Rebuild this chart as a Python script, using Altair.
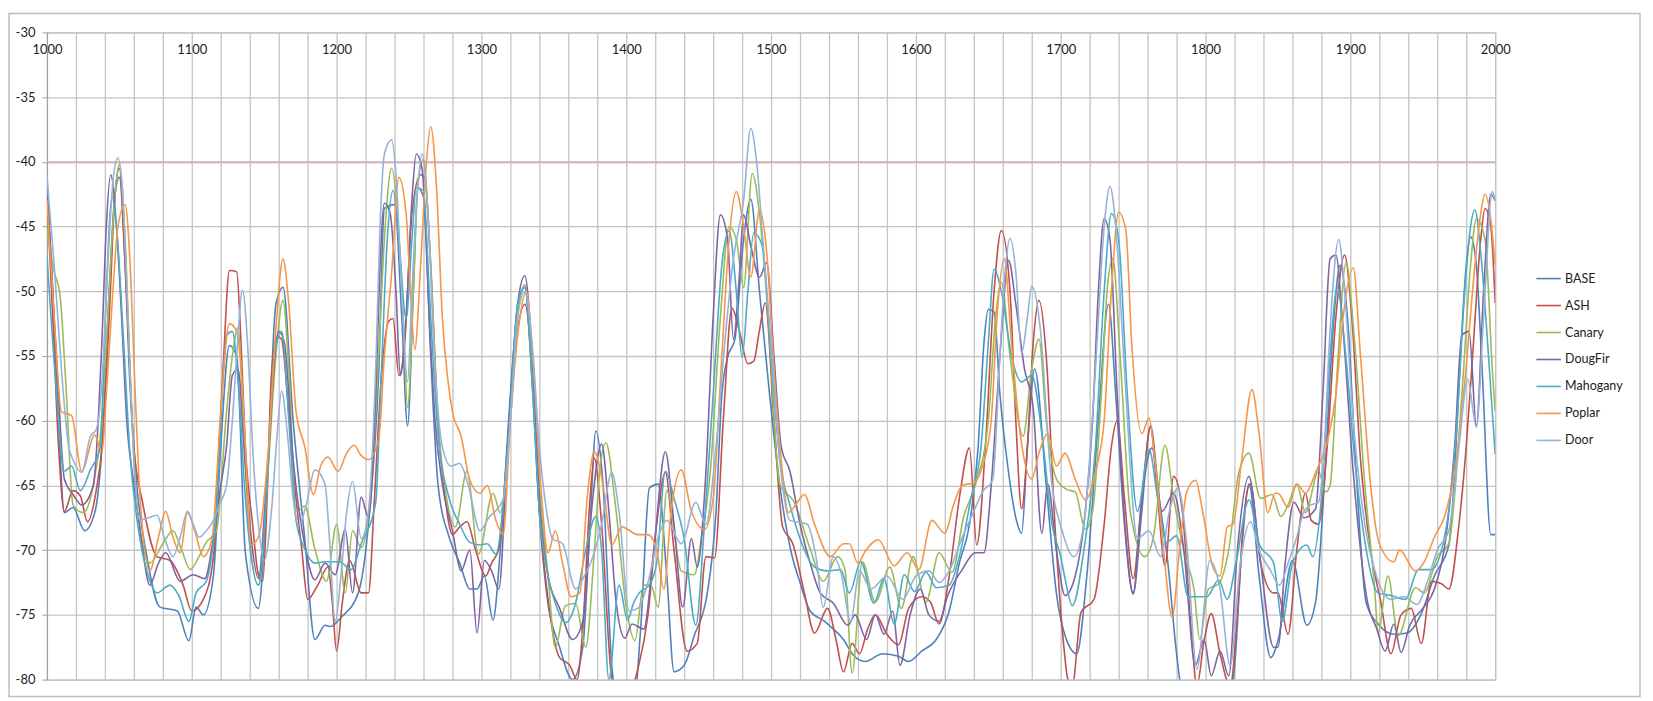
import altair as alt
import pandas as pd

SERIES = ["BASE", "ASH", "Canary", "DougFir", "Mahogany", "Poplar", "Door"]
COLORS = ["#4F81BD", "#C0504D", "#9BBB59", "#8064A2", "#4BACC6", "#F79646", "#95B3D7"]

X_TICKS = list(range(1000, 2001, 20))
Y_TICKS = list(range(-80, -29, 5))
THRESHOLD = [-40]

BASE = [(1000,-41.3),(1004,-50),(1008,-60),(1012,-67.1),(1018,-66.7),(1026,-68.5),(1033,-67.1),(1038,-62),(1043,-50),(1047,-42.5),(1050,-41.2),(1054,-48),(1057,-56.5),(1062,-64.9),(1069,-70.5),(1078,-74.4),(1090,-74.7),(1098,-77),(1103,-74.4),(1108,-75),(1115,-71.9),(1120,-62),(1126,-54.2),(1131,-55),(1137,-70.2),(1146,-74.5),(1152,-65),(1158,-51.1),(1163,-49.7),(1170,-60),(1178,-69.1),(1185,-76.9),(1192,-75.8),(1196,-75.9),(1203,-75.2),(1215,-73.3),(1222,-68),(1229,-56.5),(1233,-43.6),(1240,-43.3),(1245,-52),(1249,-60.4),(1253,-50),(1256,-42),(1260,-42.7),(1265,-55),(1270,-64.9),(1278,-69.1),(1285,-71),(1292,-73),(1297,-73),(1302,-72),(1308,-75.4),(1313,-70),(1320,-58),(1326,-50.5),(1330,-49.7),(1335,-57),(1340,-67),(1345,-73.3),(1354,-77.5),(1363,-80),(1370,-77.5),(1375,-68),(1379,-60.8),(1384,-65),(1390,-78.9),(1395,-82),(1405,-82),(1410,-76),(1416,-65.2),(1422,-64.9),(1428,-72),(1433,-79.4),(1440,-78.9),(1447,-76.6),(1456,-73.3),(1462,-67),(1466,-58),(1470,-55.1),(1475,-53.7),(1481,-46),(1486,-42.9),(1492,-50),(1499,-58),(1506,-65),(1514,-70.2),(1520,-72.5),(1527,-74.7),(1537,-75.5),(1543,-76.1),(1550,-76.9),(1556,-78),(1565,-78.6),(1577,-78),(1588,-78.2),(1595,-78.6),(1604,-77.8),(1614,-76.9),(1623,-74.7),(1630,-71),(1637,-68),(1643,-62),(1647,-54),(1650,-51.4),(1654,-51.6),(1658,-57.9),(1664,-64),(1669,-67.5),(1673,-68.7),(1677,-62),(1682,-56),(1690,-65),(1697,-73.3),(1705,-77.2),(1711,-78),(1718,-72),(1726,-60),(1733,-51),(1738,-58),(1744,-68),(1750,-73.4),(1756,-67),(1762,-60.4),(1768,-66),(1774,-71),(1780,-78),(1783,-80.5),(1790,-82),(1800,-81),(1810,-81.5),(1819,-80),(1825,-70),(1830,-64.9),(1837,-72),(1845,-78.3),(1850,-77),(1860,-70.8),(1870,-75.8),(1876,-74),(1882,-65),(1888,-53),(1893,-48),(1898,-52),(1904,-64),(1911,-74.1),(1920,-75.8),(1930,-76.5),(1939,-76.4),(1949,-74.9),(1958,-72),(1968,-69.6),(1972,-64),(1976,-55.1),(1980,-48),(1983,-45.8),(1987,-48),(1991,-56),(1997,-68.8),(2000,-68.8)]

ASH = [(1000,-42.5),(1004,-52),(1008,-62),(1012,-67),(1018,-65.4),(1023,-65.8),(1028,-67.8),(1034,-65.4),(1038,-62),(1043,-52),(1047,-42.5),(1050,-40.5),(1054,-48),(1060,-62),(1066,-66.3),(1076,-70.5),(1085,-70.8),(1094,-72.7),(1100,-74.7),(1108,-73.8),(1115,-70.5),(1118,-64),(1122,-55.1),(1126,-48.4),(1131,-48.5),(1134,-54),(1137,-62),(1142,-68),(1146,-71.9),(1149,-72.4),(1152,-66),(1155,-56.5),(1159,-53.5),(1162,-53.7),(1166,-58),(1171,-64.9),(1176,-70),(1180,-73.8),(1187,-72.7),(1194,-71.3),(1197,-74),(1200,-77.8),(1204,-74),(1209,-70.8),(1217,-73.3),(1222,-73.3),(1226,-66.3),(1231,-56.5),(1236,-52.3),(1239,-52.1),(1243,-56.5),(1247,-54),(1252,-44),(1258,-41),(1261,-41.3),(1265,-48),(1270,-60),(1275,-66),(1280,-68.8),(1285,-68.2),(1290,-67.8),(1296,-70),(1303,-72),(1307,-71),(1312,-69.9),(1318,-62),(1325,-53),(1330,-51),(1335,-56),(1340,-67),(1346,-73.8),(1354,-78.3),(1361,-78.9),(1366,-80),(1370,-76),(1375,-66),(1378,-62.9),(1383,-68),(1390,-80),(1396,-82),(1403,-81),(1408,-79.2),(1415,-75),(1421,-68),(1427,-64),(1433,-70),(1442,-77.8),(1449,-77.2),(1455,-70.5),(1461,-70.6),(1467,-60),(1473,-51.3),(1478,-53),(1484,-55.6),(1488,-55.4),(1492,-53),(1496,-50.9),(1502,-60),(1508,-68.2),(1515,-69.5),(1523,-73.3),(1530,-76.4),(1539,-74.5),(1545,-77),(1550,-79.4),(1556,-77.2),(1561,-78),(1567,-76),(1572,-75),(1580,-76.5),(1588,-77.3),(1595,-74.5),(1604,-73.6),(1610,-74),(1616,-75.7),(1623,-72),(1630,-66),(1637,-62.1),(1642,-69.6),(1648,-62),(1654,-50),(1659,-45.3),(1665,-50),(1669,-60),(1673,-66.8),(1677,-62),(1681,-54),(1685,-50.7),(1690,-55),(1696,-68),(1701,-76),(1705,-80),(1708,-80.5),(1714,-74.8),(1723,-73.8),(1730,-68),(1735,-62),(1739,-60),(1744,-66),(1750,-72.2),(1756,-66),(1762,-60.5),(1767,-66),(1772,-71.2),(1778,-64.3),(1784,-67),(1790,-76),(1794,-80.5),(1799,-77),(1804,-74.9),(1810,-78),(1817,-80.5),(1822,-75),(1826,-68),(1831,-64.9),(1838,-71),(1847,-73.3),(1850,-73.3),(1857,-76.5),(1863,-70),(1869,-65.6),(1873,-67.7),(1878,-68),(1884,-62),(1890,-52),(1896,-47.2),(1901,-52),(1907,-63),(1914,-70),(1921,-74),(1928,-78),(1935,-75),(1942,-74.5),(1949,-77.2),(1956,-72.4),(1963,-72.6),(1968,-73),(1975,-68),(1980,-62),(1985,-54),(1990,-46),(1993,-43.6),(1997,-45),(2000,-50.9)]

CANARY = [(1000,-45.3),(1005,-48.5),(1009,-50.3),(1013,-57),(1018,-66.5),(1025,-67.1),(1032,-65),(1037,-61),(1042,-52),(1046,-44),(1050,-40.2),(1054,-46),(1058,-58),(1062,-66.3),(1071,-71),(1080,-69.5),(1087,-68.5),(1093,-70),(1099,-71.5),(1105,-70.5),(1110,-69.4),(1117,-68.5),(1124,-59.3),(1128,-55),(1132,-52.8),(1135,-58),(1139,-67.7),(1146,-72.7),(1152,-65),(1158,-55),(1163,-50.7),(1167,-56),(1172,-67),(1178,-66.6),(1185,-69.9),(1193,-72.4),(1200,-68),(1206,-73.3),(1211,-68.5),(1217,-69.8),(1224,-64.9),(1229,-55),(1233,-46),(1238,-40.5),(1242,-44),(1246,-52),(1249,-59),(1253,-50),(1256,-42),(1260,-39.8),(1264,-46),(1270,-60),(1276,-66),(1282,-68.2),(1290,-63.9),(1298,-70.3),(1308,-65.6),(1313,-67.1),(1320,-60),(1326,-51),(1330,-49.5),(1335,-56),(1340,-65),(1346,-72),(1351,-77.5),(1358,-74.3),(1365,-74.1),(1372,-77.5),(1378,-70),(1382,-63.5),(1386,-61.7),(1392,-66),(1400,-74.4),(1406,-77),(1412,-72.7),(1417,-72.7),(1422,-74.4),(1428,-65.4),(1438,-71.6),(1447,-71.9),(1452,-69),(1458,-64),(1465,-52),(1471,-45),(1476,-46),(1481,-49.7),(1487,-40.9),(1492,-44),(1498,-52),(1506,-64.9),(1516,-66.3),(1527,-69.9),(1536,-72.4),(1546,-70.5),(1551,-71.5),(1556,-79.5),(1563,-70.9),(1572,-74),(1582,-71.3),(1590,-74.5),(1598,-70.5),(1607,-74),(1616,-70.2),(1625,-71.7),(1633,-67.4),(1641,-65),(1650,-60),(1655,-52),(1659,-49.3),(1665,-55),(1674,-61.2),(1680,-56),(1685,-53.7),(1690,-60),(1697,-64.5),(1704,-65.3),(1710,-65.5),(1717,-68.4),(1722,-67),(1728,-58),(1732,-50),(1736,-47.5),(1741,-55),(1748,-67),(1758,-70.5),(1764,-69),(1772,-61.9),(1778,-66),(1786,-70.5),(1792,-73),(1796,-76.9),(1802,-73),(1809,-72.6),(1816,-70),(1823,-64),(1830,-62.5),(1838,-66),(1846,-65.7),(1852,-67.4),(1857,-66.5),(1863,-64.9),(1869,-67.1),(1878,-63.9),(1883,-65.5),(1886,-65),(1891,-56),(1897,-47.8),(1903,-54),(1910,-65),(1917,-73.3),(1919,-76.4),(1926,-72),(1933,-76.6),(1945,-72.9),(1951,-73.3),(1960,-70.5),(1968,-69.5),(1977,-58),(1983,-48),(1987,-44.4),(1993,-46),(1998,-56),(2000,-59.3)]

DOUGFIR = [(1000,-41.5),(1004,-50),(1008,-58),(1012,-64.5),(1018,-65.7),(1024,-66.5),(1032,-65),(1038,-53.7),(1041,-45),(1044,-41),(1048,-45),(1052,-53),(1055,-59.8),(1060,-64.9),(1065,-69),(1071,-72.7),(1077,-71),(1082,-70.2),(1092,-72.4),(1101,-71.9),(1109,-72.2),(1115,-69),(1120,-65),(1124,-62),(1128,-56.5),(1132,-56),(1136,-62),(1141,-69),(1146,-72.2),(1152,-64),(1160,-53.1),(1164,-54),(1170,-63),(1178,-69.6),(1185,-72.3),(1192,-71),(1199,-71.9),(1206,-68.4),(1211,-73.3),(1217,-65.9),(1222,-67.5),(1227,-58),(1230,-48),(1233,-43.2),(1237,-44),(1241,-50),(1244,-56.5),(1248,-52),(1252,-43),(1255,-39.4),(1259,-40.5),(1264,-52),(1268,-60),(1273,-64.9),(1280,-68.5),(1286,-71.6),(1292,-70),(1297,-76.4),(1302,-70.8),(1307,-71.6),(1312,-73),(1318,-62),(1325,-51),(1330,-48.8),(1335,-55),(1340,-66),(1346,-72),(1354,-74.5),(1363,-76.9),(1370,-75.5),(1376,-67),(1383,-61.8),(1388,-67),(1393,-74),(1399,-76.8),(1404,-75.7),(1412,-76.1),(1419,-70),(1427,-62.4),(1433,-68),(1439,-74.4),(1445,-69.1),(1449,-71.3),(1455,-64),(1460,-52),(1465,-44.1),(1470,-46),(1474,-53.7),(1478,-49),(1481,-44.1),(1486,-46.5),(1492,-48.9),(1497,-47.8),(1502,-55),(1507,-62),(1513,-63.9),(1520,-68),(1527,-71),(1534,-73.3),(1543,-74.1),(1553,-75.8),(1558,-75),(1566,-76.9),(1572,-75),(1578,-76.5),(1584,-74.7),(1589,-78.9),(1596,-75),(1603,-73),(1609,-75),(1616,-75.5),(1622,-73.5),(1632,-71.5),(1641,-70.2),(1647,-70.2),(1652,-65),(1658,-55),(1664,-47.6),(1669,-51),(1675,-56),(1681,-59),(1687,-68.7),(1691,-64.9),(1697,-70),(1703,-73.5),(1710,-72),(1716,-68),(1722,-60),(1726,-50),(1730,-44.4),(1734,-46),(1739,-58),(1745,-69),(1750,-73.3),(1756,-66),(1763,-62.1),(1770,-67),(1778,-65.6),(1785,-70),(1793,-78.9),(1799,-76.9),(1804,-79.7),(1810,-77.8),(1816,-79.7),(1822,-70),(1830,-64.3),(1837,-70),(1847,-77.5),(1850,-77.5),(1855,-71),(1861,-66.3),(1868,-67.5),(1876,-66.8),(1881,-58),(1886,-47.5),(1890,-47.2),(1895,-53),(1902,-64),(1912,-74.1),(1918,-76),(1924,-77.8),(1930,-75.7),(1935,-77.9),(1941,-75.8),(1950,-74.5),(1958,-73),(1966,-69),(1972,-62),(1977,-53.4),(1982,-53.1),(1987,-60.4),(1992,-50),(1997,-42.5),(2000,-43)]

MAHOGANY = [(1000,-47.2),(1006,-57),(1012,-63.9),(1017,-63.5),(1023,-65.4),(1030,-63.8),(1037,-62),(1040,-53),(1045,-42.7),(1048,-45),(1053,-54),(1057,-62),(1064,-69),(1070,-72),(1076,-73.3),(1085,-72.7),(1091,-73.5),(1098,-75.5),(1103,-73.3),(1110,-72.4),(1117,-67),(1124,-53.4),(1128,-53.1),(1132,-57),(1137,-66),(1146,-72.7),(1152,-65),(1157,-55),(1162,-53.1),(1167,-60),(1172,-67.7),(1178,-69.9),(1185,-71),(1192,-70.9),(1202,-70.9),(1210,-71.5),(1217,-69.5),(1227,-66.3),(1231,-56),(1235,-46),(1239,-42.2),(1243,-46),(1248,-52.1),(1252,-46),(1255,-42),(1260,-42.2),(1264,-50),(1270,-61),(1278,-66.1),(1285,-68),(1292,-69.4),(1299,-69.6),(1304,-69.5),(1310,-70.3),(1315,-66.6),(1320,-59),(1325,-51),(1330,-49.7),(1335,-57),(1340,-67),(1346,-72),(1351,-74.1),(1358,-75.6),(1365,-74.1),(1372,-70),(1379,-67.4),(1383,-70),(1388,-80),(1395,-72.7),(1401,-75.4),(1405,-74.1),(1409,-73.3),(1416,-72.7),(1421,-71),(1427,-63.9),(1433,-66),(1440,-69.1),(1448,-75.8),(1454,-68),(1460,-58),(1466,-48),(1471,-45.3),(1476,-50),(1480,-55.1),(1484,-50),(1488,-45.5),(1494,-46.5),(1500,-55),(1506,-63),(1513,-66.5),(1520,-69.1),(1530,-71.3),(1539,-71.6),(1548,-71.5),(1554,-73.3),(1562,-70.9),(1571,-74.1),(1578,-72.2),(1585,-75.7),(1592,-71.9),(1599,-73.2),(1607,-71.7),(1614,-72.9),(1623,-72.7),(1630,-70.5),(1638,-66),(1645,-62),(1650,-54),(1654,-48.3),(1659,-50),(1666,-55),(1673,-57),(1680,-56.5),(1687,-61),(1694,-68),(1700,-70.5),(1703,-72.2),(1708,-74.3),(1716,-70),(1724,-62),(1730,-50),(1735,-44),(1740,-46),(1746,-58),(1753,-67),(1761,-62.2),(1767,-66),(1773,-69.4),(1780,-68.9),(1788,-73.6),(1801,-73.6),(1809,-72.3),(1815,-73.8),(1821,-71),(1830,-66.1),(1837,-69.5),(1847,-71),(1853,-75.5),(1860,-71),(1870,-69.6),(1874,-70.5),(1880,-66),(1886,-55),(1891,-49.7),(1896,-54),(1903,-63),(1911,-70),(1919,-73.3),(1928,-73.5),(1938,-73.8),(1947,-71.5),(1956,-71.5),(1965,-69),(1973,-61),(1979,-50),(1983,-45),(1986,-43.7),(1990,-47),(1996,-56),(2000,-62.6)]

POPLAR = [(1000,-43),(1005,-52),(1010,-59.3),(1017,-59.6),(1024,-63.9),(1033,-61.1),(1038,-62.4),(1041,-58),(1045,-50.9),(1049,-45),(1054,-43.3),(1057,-47),(1061,-58),(1064,-65.4),(1071,-71.6),(1077,-69),(1082,-67),(1087,-69),(1092,-70.2),(1097,-67.1),(1102,-68.5),(1108,-70.5),(1114,-69.1),(1120,-59.3),(1126,-52.5),(1131,-53.1),(1134,-56),(1137,-62),(1141,-69.6),(1146,-69),(1153,-62),(1158,-53),(1163,-47.5),(1167,-51),(1172,-59.3),(1178,-62),(1184,-65.7),(1189,-63.5),(1194,-62.8),(1201,-63.9),(1207,-62.5),(1212,-61.9),(1217,-62.7),(1222,-63),(1229,-61.5),(1233,-55),(1238,-48.6),(1243,-41.2),(1248,-44),(1251,-50),(1254,-54.5),(1258,-48),(1262,-40),(1265,-37.3),(1269,-42),(1273,-52),(1277,-57),(1280,-59.3),(1286,-61.2),(1292,-64.6),(1299,-65.6),(1304,-65),(1310,-67.7),(1315,-68.8),(1320,-60),(1326,-52.5),(1331,-50),(1336,-56),(1341,-65),(1346,-70.2),(1351,-68.5),(1356,-71),(1362,-73.6),(1368,-73.3),(1373,-66),(1378,-62.4),(1384,-65),(1390,-69.6),(1397,-68.2),(1408,-68.8),(1415,-68.8),(1421,-70),(1426,-73),(1431,-67),(1438,-63.8),(1445,-67),(1454,-68.4),(1460,-66),(1466,-55),(1471,-46),(1476,-42.3),(1481,-45),(1486,-48.9),(1492,-43.7),(1497,-47),(1502,-56),(1507,-63),(1512,-67.1),(1517,-66.5),(1523,-65.7),(1530,-68),(1541,-70.5),(1550,-69.5),(1554,-69.5),(1560,-71),(1565,-70.1),(1574,-69.2),(1585,-71.2),(1594,-70.2),(1602,-71.5),(1611,-67.7),(1620,-68.7),(1626,-66.5),(1632,-65),(1640,-64.8),(1646,-63.5),(1652,-60),(1656,-52),(1661,-47.5),(1666,-54),(1672,-61),(1680,-64.5),(1685,-62.5),(1691,-61),(1697,-63.5),(1703,-62.5),(1710,-64.5),(1717,-66.1),(1725,-63.5),(1730,-60),(1735,-50),(1740,-43.9),(1745,-45.3),(1749,-54),(1756,-61),(1761,-59.8),(1765,-63),(1771,-70),(1777,-75.2),(1782,-70),(1787,-65.5),(1793,-64.6),(1798,-67),(1805,-71.3),(1810,-72),(1815,-68.2),(1819,-68),(1825,-63),(1832,-57.6),(1837,-61),(1843,-67.1),(1848,-65.6),(1850,-65.6),(1857,-66.7),(1863,-64.9),(1869,-65.6),(1876,-64),(1885,-61.2),(1890,-58),(1895,-52),(1902,-48.2),(1907,-55),(1914,-65),(1920,-69.5),(1930,-70.9),(1934,-70),(1945,-71.6),(1951,-70.9),(1958,-69),(1965,-67.4),(1972,-64),(1979,-57),(1986,-48),(1990,-44),(1993,-42.5),(1997,-44.5),(2000,-48)]

DOOR = [(1000,-41.1),(1005,-48),(1010,-56),(1015,-62),(1018,-63),(1024,-64),(1030,-61.2),(1034,-60.7),(1038,-57),(1042,-48),(1046,-41),(1049,-39.7),(1052,-42),(1056,-52),(1060,-63),(1064,-67.7),(1070,-67.5),(1076,-67.3),(1081,-69),(1087,-70.5),(1092,-69),(1097,-67),(1101,-68),(1105,-69),(1110,-68.5),(1115,-67.7),(1119,-66.5),(1124,-65),(1128,-60),(1131,-55),(1135,-49.9),(1139,-55),(1142,-62),(1146,-68),(1150,-70.8),(1155,-67),(1159,-61),(1162,-57.7),(1166,-61),(1170,-66),(1174,-68.1),(1179,-66.5),(1185,-63.8),(1192,-64.9),(1195,-69),(1199,-75.5),(1203,-72),(1207,-67),(1211,-64.7),(1217,-69.1),(1222,-67),(1227,-56),(1230,-45),(1233,-39.4),(1238,-38.3),(1241,-41),(1245,-50),(1249,-57),(1252,-50),(1256,-42),(1259,-39.4),(1263,-44),(1268,-56),(1273,-62),(1279,-63.5),(1285,-63.3),(1291,-65),(1299,-68.5),(1305,-67.5),(1315,-66.1),(1320,-60),(1325,-52),(1330,-50),(1335,-54),(1340,-62),(1345,-67),(1349,-69.1),(1356,-69.5),(1365,-73),(1371,-72),(1377,-70.5),(1383,-68),(1390,-64),(1395,-67),(1402,-74.7),(1408,-74.5),(1415,-72.5),(1422,-69),(1428,-67.7),(1438,-69.5),(1448,-66.3),(1455,-68),(1462,-62),(1468,-54),(1474,-47.5),(1481,-43),(1486,-37.4),(1490,-40),(1495,-47),(1500,-54),(1506,-63),(1513,-67.7),(1525,-68),(1531,-70.5),(1536,-74.4),(1543,-70.5),(1548,-71.6),(1555,-75.5),(1561,-71.6),(1569,-73),(1580,-72),(1591,-73.8),(1600,-72),(1609,-71.6),(1616,-72.5),(1623,-71.6),(1632,-69),(1640,-67),(1646,-65.5),(1653,-64.6),(1658,-55),(1662,-48),(1665,-45.9),(1669,-48.5),(1673,-54.8),(1677,-52),(1680,-49.6),(1686,-53),(1693,-64),(1701,-68.5),(1709,-70.5),(1716,-68),(1724,-56),(1730,-45),(1734,-41.9),(1738,-45),(1744,-56),(1753,-69.1),(1761,-68.5),(1769,-70.5),(1775,-67),(1781,-65.2),(1787,-69.5),(1794,-79.2),(1803,-70.8),(1810,-73),(1817,-78.9),(1824,-71),(1831,-67.8),(1837,-70),(1845,-71.6),(1851,-72.7),(1857,-71),(1863,-69),(1868,-67),(1873,-66.5),(1878,-66.3),(1882,-62),(1886,-53),(1892,-46),(1896,-50),(1902,-60),(1910,-68),(1918,-72),(1928,-73.8),(1937,-73.6),(1946,-74.2),(1953,-72.5),(1960,-70),(1968,-68.5),(1975,-62),(1981,-56.8),(1987,-60.5),(1992,-52),(1998,-42.3),(2000,-43)]

ALL = [BASE, ASH, CANARY, DOUGFIR, MAHOGANY, POPLAR, DOOR]

rows = []
for name, pts in zip(SERIES, ALL):
    for fx, lv in pts:
        rows.append({"freq": fx, "level": lv, "series": name})
df = pd.DataFrame(rows)

FONT = "Lato"
GRID = "#c4c4c4"

x_scale = alt.Scale(domain=[1000, 2000], nice=False, zero=False)
y_scale = alt.Scale(domain=[-80, -30], nice=False, zero=False)

x_axis = alt.Axis(
    orient="top", values=X_TICKS, format="d",
    labelExpr="datum.value % 100 == 0 ? datum.label : ''",
    labelFlush=False, labelOverlap=False, tickSize=0,
    labelPadding=-17, labelBaseline="middle", domain=False,
    title=None, gridColor=GRID, gridWidth=1.3,
    labelFont=FONT, labelFontSize=13, labelColor="#222222",
)
y_axis = alt.Axis(
    values=Y_TICKS, format="d", title=None, tickSize=5,
    labelExpr="'' + datum.value",
    tickColor="#9e9e9e", domainColor="#9e9e9e", labelPadding=7,
    gridColor=GRID, gridWidth=1.3, labelFont=FONT,
    labelFontSize=13, labelColor="#222222", labelFlush=False,
    labelOverlap=False,
)

frame = alt.Chart(pd.DataFrame({"k": [0]})).mark_rect(
    fillOpacity=0, stroke="#bdbdbd", strokeWidth=1.5
).encode(
    x=alt.value(-38), x2=alt.value(1595), y=alt.value(-19), y2=alt.value(665)
)

rule = alt.Chart(pd.DataFrame({"level": THRESHOLD})).mark_rule(
    color="#d6aaaa", strokeWidth=1.3
).encode(y=alt.Y("level:Q", scale=y_scale, axis=y_axis))

lines = alt.Chart(df).mark_line(
    interpolate="monotone", strokeWidth=1.6, clip=True
).encode(
    x=alt.X("freq:Q", scale=x_scale, axis=x_axis),
    y=alt.Y("level:Q", scale=y_scale, axis=y_axis),
    color=alt.Color(
        "series:N",
        scale=alt.Scale(domain=SERIES, range=COLORS),
        legend=alt.Legend(
            orient="none", legendX=1490, legendY=233, title=None,
            symbolType="stroke", symbolSize=600, symbolStrokeWidth=1.6,
            labelFont=FONT, labelFontSize=12.5, labelColor="#222222",
            labelOffset=3, rowPadding=7, padding=0,
        ),
    ),
)

chart = alt.layer(frame, rule, lines).properties(
    width=1450, height=648,
    autosize=alt.AutoSizeParams(type="none"),
    padding={"left": 39, "top": 24, "right": 150, "bottom": 20},
    background="white",
).configure_view(stroke="#b0b0b0", strokeWidth=1)

chart.save("out.html", embed_options={"renderer": "svg", "actions": False})
